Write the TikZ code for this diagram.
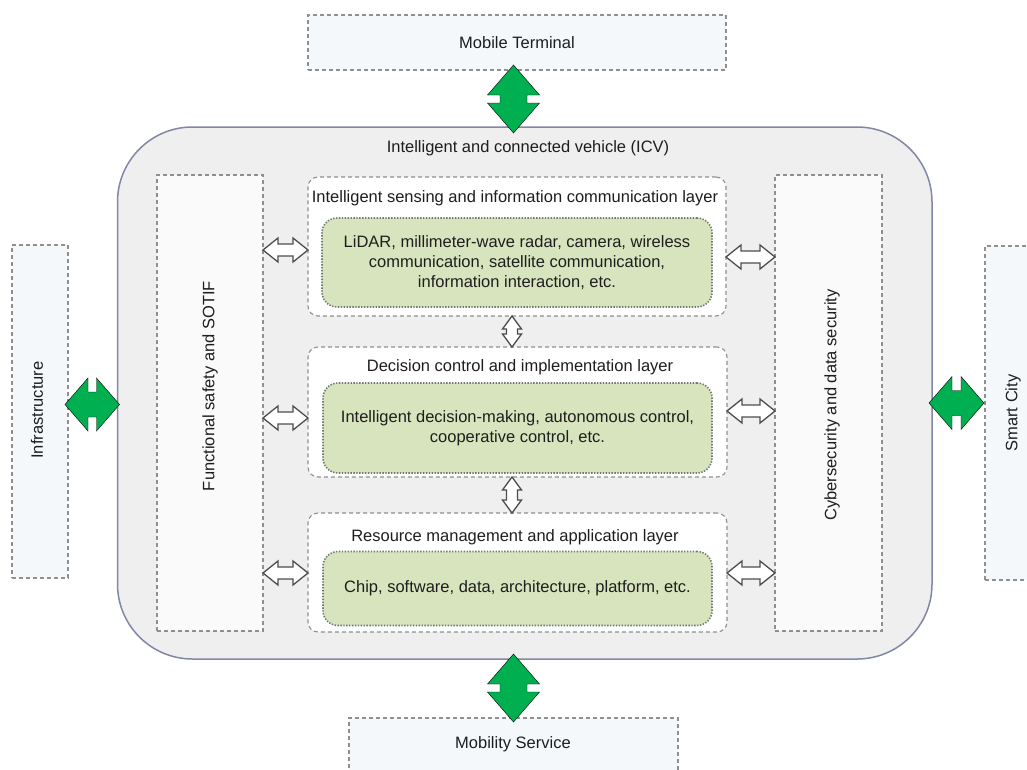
\documentclass[tikz,border=0pt]{standalone}
\usepackage{fontspec}
\setmainfont{Liberation Sans}
\usepackage{xcolor}
\usepackage{tikz}
\usetikzlibrary{calc,positioning}
\definecolor{icvfill}{HTML}{EFEFEF}
\definecolor{icvline}{HTML}{8286A8}
\definecolor{boxfill}{HTML}{F5F8FA}
\definecolor{dashgray}{HTML}{8F8F8F}
\definecolor{techgreen}{HTML}{D8E4BE}
\definecolor{dotgray}{HTML}{6F7A72}
\definecolor{linkgreen}{HTML}{00B050}
\definecolor{arrowgray}{HTML}{4D4D4D}
\definecolor{txt}{HTML}{1E1E1E}
\newcommand\lbfont{\fontsize{16.5pt}{20pt}\selectfont}

\begin{document}
\begin{tikzpicture}[x=1pt,y=-1pt,
    lbl/.style={font=\lbfont, text=txt, inner sep=0pt},
    icvbox/.style={draw=icvline, line width=1.5pt, fill=icvfill, rounded corners=75pt, outer sep=0pt},
    outbox/.style={draw=dashgray, dash pattern=on 4pt off 3pt, line width=1.1pt, fill=boxfill, outer sep=0pt, lbl},
    sidebox/.style={draw=dashgray, dash pattern=on 4pt off 3pt, line width=1.1pt, fill=white!98!black, outer sep=0pt},
    layerbox/.style={draw=dashgray, dash pattern=on 4pt off 3pt, line width=1.1pt, fill=white, rounded corners=10pt, outer sep=0pt},
    techbox/.style={draw=dotgray, dash pattern=on 1.4pt off 1.5pt, line width=1.6pt, fill=techgreen, rounded corners=15pt, outer sep=0pt, lbl, align=center},
    fat/.style n args={3}{to path={
        -- ($(\tikztostart)!#1!(\tikztotarget)!#2!90:(\tikztotarget)$)
        -- ($(\tikztostart)!#1!(\tikztotarget)!#3!90:(\tikztotarget)$)
        -- ($(\tikztotarget)!#1!(\tikztostart)!#3!-90:(\tikztostart)$)
        -- ($(\tikztotarget)!#1!(\tikztostart)!#2!-90:(\tikztostart)$)
        -- (\tikztotarget)
        -- ($(\tikztotarget)!#1!(\tikztostart)!#2!90:(\tikztostart)$)
        -- ($(\tikztotarget)!#1!(\tikztostart)!#3!90:(\tikztostart)$)
        -- ($(\tikztostart)!#1!(\tikztotarget)!#3!-90:(\tikztotarget)$)
        -- ($(\tikztostart)!#1!(\tikztotarget)!#2!-90:(\tikztotarget)$)
        -- cycle}},
    greenv/.style={fill=linkgreen, fat={30pt}{26pt}{13.5pt}},
    greenh/.style={fill=linkgreen, fat={23pt}{26.5pt}{12.5pt}},
    whiteh/.style={fill=white, draw=arrowgray, line width=1.3pt, fat={15pt}{12pt}{6pt}},
    whitev/.style={fill=white, draw=arrowgray, line width=1.3pt, fat={13pt}{9.5pt}{5.5pt}}]
    \clip (0,0) rectangle (1027,769);

    % ICV body
    \node[icvbox, minimum width=814.5pt, minimum height=532pt] (icv) at (524.75,393) {};
    \node[lbl] (icvtitle) at (528,148) {Intelligent and connected vehicle (ICV)};

    % Outside parties
    \node[outbox, minimum width=418pt, minimum height=55pt] (mt) at (517,42.5) {Mobile Terminal};
    \node[outbox, minimum width=56pt, minimum height=333pt] (infra) at (40,411.5) {};
    \node[lbl, rotate=90] (infratext) at (37,410) {Infrastructure};
    \node[outbox, minimum width=60pt, minimum height=334pt] (city) at (1015,413) {};
    \node[lbl, rotate=90] (citytext) at (1013,413) {Smart City};
    \node[outbox, minimum width=329pt, minimum height=80pt] (ms) at (513.5,758) {};
    \node[lbl] (mstext) at (513,744) {Mobility Service};

    % Side columns
    \node[sidebox, minimum width=106pt, minimum height=456pt] (fs) at (210,403) {};
    \node[lbl, rotate=90] (fstext) at (210,386) {Functional safety and SOTIF};
    \node[sidebox, minimum width=107pt, minimum height=456pt] (cs) at (828.5,403) {};
    \node[lbl, rotate=90] (cstext) at (832,405) {Cybersecurity and data security};

    % Layers
    \node[layerbox, minimum width=418pt, minimum height=139pt] (sense) at (517,246.5) {};
    \node[lbl] (sensetitle) at (515,198) {Intelligent sensing and information communication layer};
    \node[techbox, minimum width=390pt, minimum height=89pt] (sensetech) at (517,262.5)
        {LiDAR, millimeter-wave radar, camera, wireless\\communication, satellite communication,\\information interaction, etc.};

    \node[layerbox, minimum width=419pt, minimum height=130pt] (dec) at (517.5,412) {};
    \node[lbl] (dectitle) at (520,367) {Decision control and implementation layer};
    \node[techbox, minimum width=389pt, minimum height=90pt] (dectech) at (517.5,428)
        {Intelligent decision-making, autonomous control,\\cooperative control, etc.};

    \node[layerbox, minimum width=419pt, minimum height=119pt] (res) at (517.5,572.5) {};
    \node[lbl] (restitle) at (515,537) {Resource management and application layer};
    \node[techbox, minimum width=389pt, minimum height=74pt] (restech) at (517.5,588.5)
        {Chip, software, data, architecture, platform, etc.};

    % White links
    \foreach \y/\a in {250/sense, 418/dec, 573/res}
        \draw[whiteh] (fs.east |- 0,\y) to (\a.west |- 0,\y);
    \foreach \y/\a in {257/sense, 411/dec, 573/res}
        \draw[whiteh] (\a.east |- 0,\y) to (cs.west |- 0,\y);
    \draw[whitev] (sense.south -| 512,0) to (dec.north -| 512,0);
    \draw[whitev] (dec.south -| 512,0) to (res.north -| 512,0);

    % Green links
    \coordinate (mtend) at ($(mt.south)+(-3.5,-5)$);
    \coordinate (icvtop) at ($(icv.north)+(-11.25,6)$);
    \coordinate (icvbot) at ($(icv.south)+(-11.25,-5)$);
    \coordinate (msend) at ($(ms.north)+(0,4)$);
    \coordinate (infraend) at ($(infra.east |- 0,404.5)+(-3,0)$);
    \coordinate (icvleft) at ($(icv.west |- 0,404.5)+(2,0)$);
    \coordinate (icvright) at ($(icv.east |- 0,403)+(-3,0)$);
    \coordinate (cityend) at ($(city.west |- 0,403)+(-1,0)$);
    \draw[greenv] (mtend) to (icvtop);
    \draw[greenv] (icvbot) to (msend);
    \draw[greenh] (infraend) to (icvleft);
    \draw[greenh] (icvright) to (cityend);
\end{tikzpicture}
\end{document}
